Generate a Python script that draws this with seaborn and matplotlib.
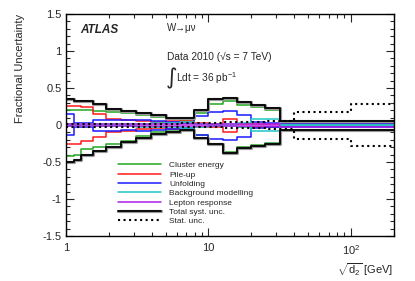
import numpy as np
import pandas as pd
import seaborn as sns
import matplotlib.pyplot as plt
import matplotlib.patheffects as pe
from matplotlib.lines import Line2D
from matplotlib.ticker import FixedLocator, FixedFormatter, MultipleLocator, LogLocator, NullFormatter

# Bin edges in sqrt(d2) [GeV]
edges = [1, 1.14, 1.28, 1.54, 1.92, 2.44, 3.1, 3.95, 5.0, 6.3, 7.95, 10, 12.6, 15.8, 20, 25, 31.6, 40, 100, 200]

# Fractional uncertainties per bin (up / down)
cluster_up = [0.20, 0.20, 0.20, 0.19, 0.18, 0.16, 0.14, 0.11, 0.08, 0.05, 0.16, 0.29, 0.32, 0.27, 0.24, 0.21, 0.0, 0.0, 0.0]
cluster_dn = [-0.42, -0.40, -0.33, -0.30, -0.26, -0.22, -0.15, -0.10, -0.07, -0.04, -0.14, -0.25, -0.36, -0.30, -0.27, -0.24, 0.0, 0.0, 0.0]
pileup_up = [0.26, 0.26, 0.25, 0.15, 0.085, 0.065, 0.05, 0.04, 0.06, 0.06, 0.03, 0.02, 0.085, 0.02, 0.02, 0.02, 0.015, 0.015, 0.015]
pileup_dn = [-0.26, -0.26, -0.21, -0.16, -0.10, -0.08, -0.05, -0.04, -0.06, -0.065, -0.03, -0.02, -0.088, -0.02, -0.02, -0.02, -0.015, -0.015, -0.015]
unfold_up = [0.15, 0.03, 0.03, 0.07, 0.07, 0.07, 0.07, 0.06, 0.04, 0.03, 0.12, 0.17, 0.19, 0.14, 0.04, 0.03, 0.025, 0.025, 0.025]
unfold_dn = [-0.14, -0.03, -0.03, -0.075, -0.075, -0.07, -0.075, -0.07, -0.05, -0.04, -0.14, -0.19, -0.20, -0.16, -0.04, -0.03, -0.025, -0.025, -0.025]
bkg_up = [0.01, 0.01, 0.01, 0.01, 0.01, 0.01, 0.02, 0.03, 0.03, 0.04, 0.02, 0.01, 0.01, 0.03, 0.075, 0.075, 0.005, 0.005, 0.005]
bkg_dn = [-0.01, -0.01, -0.01, -0.01, -0.01, -0.01, -0.02, -0.03, -0.03, -0.04, -0.02, -0.01, -0.01, -0.03, -0.075, -0.075, -0.005, -0.005, -0.005]
lepton_up = [0.01] * 16 + [0.035, 0.035, 0.035]
lepton_dn = [-0.01] * 16 + [-0.03, -0.03, -0.03]
total_up = [0.35, 0.33, 0.32, 0.29, 0.22, 0.19, 0.16, 0.13, 0.095, 0.10, 0.21, 0.35, 0.37, 0.31, 0.27, 0.23, 0.06, 0.06, 0.06]
total_dn = [-0.50, -0.47, -0.41, -0.35, -0.29, -0.23, -0.17, -0.12, -0.09, -0.07, -0.18, -0.25, -0.38, -0.31, -0.28, -0.25, -0.065, -0.065, -0.065]
stat_up = [0.02, 0.02, 0.02, 0.02, 0.02, 0.02, 0.02, 0.02, 0.02, 0.03, 0.03, 0.03, 0.04, 0.04, 0.04, 0.05, 0.05, 0.17, 0.28]
stat_dn = [-0.02, -0.02, -0.02, -0.02, -0.02, -0.02, -0.02, -0.02, -0.02, -0.03, -0.03, -0.03, -0.04, -0.04, -0.04, -0.05, -0.05, -0.19, -0.28]

labels = ['Cluster energy', 'Pile-up', 'Unfolding', 'Background modelling',
          'Lepton response', 'Total syst. unc.', 'Stat. unc.']
series = [
    (cluster_up, cluster_dn, '#22a822', '-', 1.1),
    (pileup_up, pileup_dn, '#ff1a1a', '-', 1.1),
    (unfold_up, unfold_dn, '#1a1aff', '-', 1.1),
    (bkg_up, bkg_dn, '#1ec8c8', '-', 1.1),
    (lepton_up, lepton_dn, '#b01ee6', '-', 1.1),
    (total_up, total_dn, 'black', '-', 1.3),
    (stat_up, stat_dn, 'black', ':', 1.5),
]

sns.set_theme(style='ticks')
plt.rcParams['font.family'] = ['Liberation Sans', 'DejaVu Sans']
plt.rcParams['mathtext.fontset'] = 'custom'
plt.rcParams['mathtext.rm'] = 'Liberation Sans'
plt.rcParams['mathtext.it'] = 'Liberation Sans:italic'

fig = plt.figure(figsize=(4.15, 2.81), dpi=100)
ax = fig.add_axes([0.159, 0.16, 0.790, 0.79])

handles = []
for (up, dn, col, ls, lw), lab in zip(series, labels):
    effects = None
    if lab == 'Total syst. unc.':
        effects = [pe.Stroke(linewidth=2.3, foreground='0.6'), pe.Normal()]
    for side, vals in (('up', up), ('down', dn)):
        df = pd.DataFrame({'x': edges, 'y': list(vals) + [vals[-1]]})
        sns.lineplot(data=df, x='x', y='y', ax=ax, drawstyle='steps-post', color=col,
                     linestyle=ls, lw=lw, estimator=None, sort=False, path_effects=effects)
    handles.append(Line2D([], [], color=col, linestyle=ls, lw=lw, path_effects=effects))

ax.set_xscale('log')
ax.set_xlim(1, 200)
ax.set_ylim(-1.5, 1.5)

ax.xaxis.set_major_locator(FixedLocator([1, 10, 100]))
ax.xaxis.set_major_formatter(FixedFormatter(['1', '10', '$10^{2}$']))
ax.xaxis.set_minor_locator(LogLocator(base=10, subs=np.arange(2, 10), numticks=20))
ax.xaxis.set_minor_formatter(NullFormatter())
yt = [-1.5, -1, -0.5, 0, 0.5, 1, 1.5]
ax.yaxis.set_major_locator(FixedLocator(yt))
ax.yaxis.set_major_formatter(FixedFormatter(['-1.5', '-1', '-0.5', '0', '0.5', '1', '1.5']))
ax.yaxis.set_minor_locator(MultipleLocator(0.1))

ax.tick_params(which='both', direction='in', top=True, right=True, labelsize=8, pad=3)
ax.tick_params(which='major', length=6, width=0.8)
ax.tick_params(which='minor', length=3, width=0.8)
ax.tick_params(axis='x', which='major', pad=5)
for s in ax.spines.values():
    s.set_linewidth(1.0)
    s.set_color('black')

ax.set_ylabel('Fractional Uncertainty', fontsize=8, loc='top', labelpad=13)
ax.set_xlabel(r'$\sqrt{\mathrm{d}_{2}}$ [GeV]', fontsize=8, loc='right', labelpad=3)

ax.text(0.043, 0.93, 'ATLAS', transform=ax.transAxes, fontsize=8.5, fontweight='bold',
        fontstyle='italic', va='center')
ax.text(0.308, 0.937, 'W\u2192\u03bc\u03bd', transform=ax.transAxes, fontsize=7, va='center')
ax.text(0.308, 0.806, 'Data 2010 (\u221as = 7 TeV)', transform=ax.transAxes, fontsize=7.3, va='center')
ax.text(0.303, 0.712, '\u222b', transform=ax.transAxes, fontsize=16, va='center',
        family=['DejaVu Sans'])
ax.text(0.335, 0.712, 'Ldt = 36 pb$^{-1}$', transform=ax.transAxes, fontsize=7.3, va='center')

ax.legend(handles, labels, loc='upper left', bbox_to_anchor=(0.145, 0.355), frameon=False,
          fontsize=6, handlelength=5.2, handletextpad=1.0, labelspacing=0.18, borderpad=0)

fig.savefig('out.png', dpi=100)
